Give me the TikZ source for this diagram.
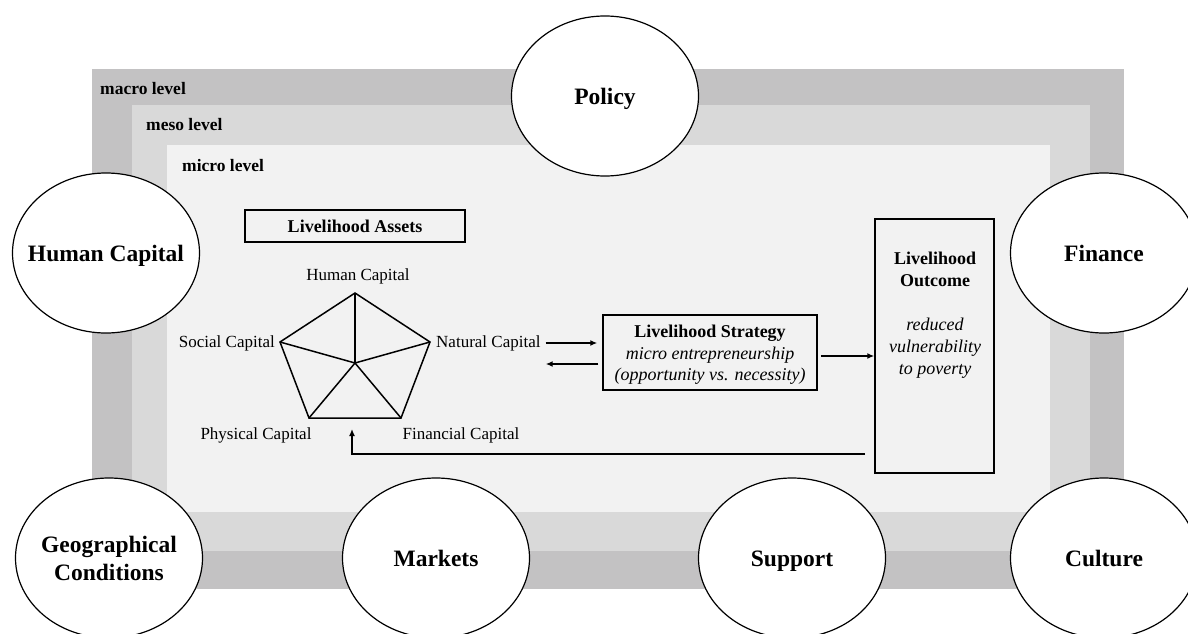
\documentclass[tikz,border=0pt]{standalone}
\usepackage{fontspec}
\setmainfont{Liberation Serif}
\usetikzlibrary{shapes.geometric,arrows.meta}
\definecolor{macrogray}{RGB}{195,194,195}
\definecolor{mesogray}{RGB}{217,217,217}
\definecolor{microgray}{RGB}{242,242,242}
\begin{document}
\begin{tikzpicture}[x=1pt, y=-1pt,
    every node/.style={align=center},
    level label/.style={anchor=west, inner sep=0pt, font=\fontsize{17.5}{21}\selectfont\bfseries},
    factor/.style={draw, ellipse, fill=white, line width=1.2pt, minimum width=187pt, minimum height=160pt, inner xsep=-12pt, inner ysep=0pt, font=\fontsize{23.5}{28}\selectfont\bfseries},
    single factor/.style={factor, text height=17pt, text depth=0pt},
    frame box/.style={draw, line width=1.5pt, inner sep=0pt, font=\fontsize{18}{22}\selectfont},
    cap label/.style={inner sep=0pt, font=\fontsize{17}{20}\selectfont},
    web/.style={draw, line width=1.5pt, line join=miter},
    flow arrow/.style={draw, line width=1.5pt, -{Latex[length=7pt,width=6pt]}},
    ]
\useasboundingbox (0,0) rectangle (1188,634);
% nested levels
\fill[macrogray] (92,69) rectangle (1124,589);
\fill[mesogray] (132,105) rectangle (1090,551);
\fill[microgray] (167,145) rectangle (1050,512);
\node[level label] (macro) at (100,89) {macro level};
\node[level label] (meso) at (146,125) {meso level};
\node[level label] (micro) at (182,166) {micro level};
% context factors
\node[single factor] (policy) at (605,96) {Policy};
\node[single factor] (human) at (106,253) {Human Capital};
\node[single factor] (finance) at (1104,253) {Finance};
\node[factor] (geo) at (109,558) {Geographical\\Conditions};
\node[single factor] (markets) at (436,558) {Markets};
\node[single factor] (support) at (792,558) {Support};
\node[single factor] (culture) at (1104,558) {Culture};
% livelihood assets
\node[frame box, minimum width=220pt, minimum height=32pt] (assets) at (355,226) {\bfseries Livelihood Assets};
\coordinate (hcV) at (355,293);
\coordinate (ncV) at (430,342);
\coordinate (fcV) at (401,418);
\coordinate (pcV) at (309,418);
\coordinate (scV) at (280,342);
\coordinate (core) at (355,363);
\draw[web] (hcV) -- (ncV) -- (fcV) -- (pcV) -- (scV) -- cycle;
\foreach \v in {hcV,ncV,fcV,pcV,scV}
    \draw[web] (core) -- (\v);
\node[cap label] (hcLab) at (358,276) {Human Capital};
\node[cap label, anchor=east] (scLab) at (275,343) {Social Capital};
\node[cap label, anchor=west] (ncLab) at (436,343) {Natural Capital};
\node[cap label] (pcLab) at (256,435) {Physical Capital};
\node[cap label] (fcLab) at (461,435) {Financial Capital};
% strategy and outcome
\node[frame box, minimum width=214pt, minimum height=75pt] (strategy) at (710,352.5) {};
\node[inner sep=0pt, font=\fontsize{18}{21.5}\selectfont] (stratText) at (710,355)
    {\textbf{Livelihood Strategy}\\\textit{micro entrepreneurship}\\\textit{(opportunity vs. necessity)}};
\node[frame box, minimum width=119pt, minimum height=254pt] (outcome) at (934.5,346) {};
\node[inner sep=0pt, font=\fontsize{18}{22}\selectfont] (outText) at (935,315)
    {\textbf{Livelihood}\\\textbf{Outcome}\\[22pt]\textit{reduced}\\\textit{vulnerability}\\\textit{to poverty}};
% arrows
\coordinate (back) at ([yshift=-11.5pt]strategy.west);
\coordinate (toOut) at ([yshift=-3.5pt]strategy.east);
\draw[flow arrow, shorten <=5pt, shorten >=5pt] (ncLab.east) -- (ncLab.east -| strategy.west);
\draw[flow arrow, shorten <=4pt, shorten >=5pt] (back) -- (back -| ncLab.east);
\draw[flow arrow, shorten <=3pt] (toOut) -- (toOut -| outcome.west);
\coordinate (fbStart) at (865,454);
\coordinate (fbEnd) at (352,429);
\draw[flow arrow] (fbStart) -| (fbEnd);
\end{tikzpicture}
\end{document}
